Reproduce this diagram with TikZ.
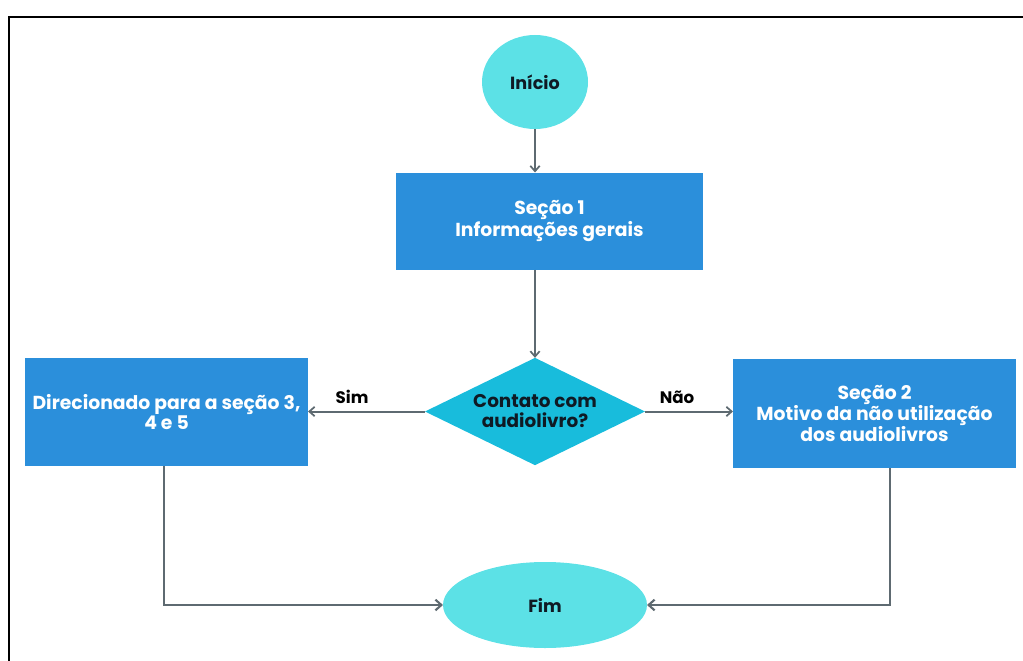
\documentclass[tikz,border=0pt]{standalone}
\usepackage{fontspec}
\setmainfont{Poppins}
\usetikzlibrary{shapes.geometric,arrows.meta}
\definecolor{boxblue}{HTML}{2B8FDB}
\definecolor{lightcyan}{HTML}{5CE1E6}
\definecolor{deccyan}{HTML}{18BCDC}
\definecolor{arrowgrey}{HTML}{5E6A71}
\definecolor{darktext}{HTML}{0F1A24}
\tikzset{
  stepbox/.style={rectangle, fill=boxblue, text=white, inner sep=0pt, outer sep=0pt,
    align=center, font=\fontsize{14.1}{13.2}\selectfont\bfseries},
  terminal/.style={ellipse, fill=lightcyan, text=darktext, inner sep=0pt, outer sep=0pt,
    font=\fontsize{13.2}{13}\selectfont\bfseries},
  decision/.style={diamond, fill=deccyan, text=darktext, inner sep=0pt, outer sep=0pt,
    aspect=2.05, align=center, font=\fontsize{13.8}{15}\selectfont\bfseries},
  conn/.style={draw=arrowgrey, line width=1.5pt, -{Straight Barb[length=4pt,width=7pt,line width=1.3pt]}},
  connthick/.style={draw=arrowgrey, line width=2.2pt, -{Straight Barb[length=4.5pt,width=8pt,line width=1.6pt]}},
  edgelabel/.style={text=black, font=\fontsize{12.5}{12}\selectfont\bfseries, inner sep=0pt}
}
\begin{document}
\begin{tikzpicture}[x=0.75pt,y=-0.75pt]
\useasboundingbox (0,0) rectangle (1023,660);
% frame
\draw[line width=1.6pt, black] (9,662) -- (9,17) -- (1025,17);
% nodes
\node[terminal, minimum width=79.5pt, minimum height=70.5pt] (ini) at (535,82) {Início};
\node[stepbox, minimum width=230.25pt, minimum height=72.75pt] (s1) at (549.5,221) {Seção 1\\Informações gerais};
\node[decision, minimum width=165pt, minimum height=80.5pt] (dec) at (535,411.5) {Contato com\\audiolivro?};
\node[stepbox, minimum width=212.25pt, minimum height=81pt] (left) at (166.5,412) {Direcionado para a seção 3,\\4 e 5};
\node[stepbox, minimum width=212.25pt, minimum height=81.75pt] (right) at (874.5,413.5) {Seção 2\\Motivo da não utilização\\dos audiolivros};
\node[terminal, minimum width=153pt, minimum height=64.5pt] (fim) at (545,605) {Fim};
\node[edgelabel] (sim) at (352,397) {Sim};
\node[edgelabel] (nao) at (677,397) {Não};
% connector anchors
\coordinate (lb) at (164,466);
\coordinate (rb) at (890,468);
% connectors
\draw[conn] (ini.south) -- (ini.south |- s1.north);
\draw[conn] (ini.south |- s1.south) -- (dec.north);
\draw[conn] (dec.west) -- (left.east |- dec.west);
\draw[conn] (dec.east) -- (right.west |- dec.east);
\draw[connthick] (lb) |- (fim.west);
\draw[connthick] (rb) |- (fim.east);
\end{tikzpicture}
\end{document}
